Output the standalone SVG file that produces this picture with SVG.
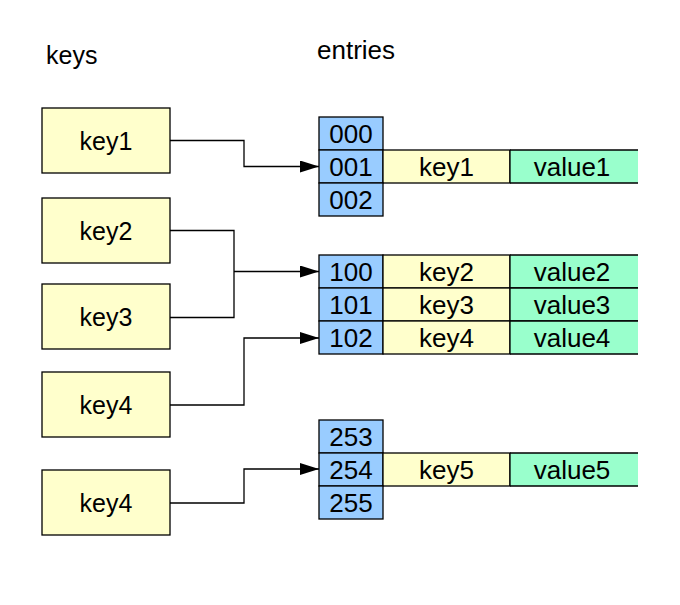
<svg xmlns="http://www.w3.org/2000/svg" width="680" height="605" viewBox="0 0 680 605">
<defs>
<style>
text{font-family:"Liberation Sans",Arial,sans-serif;font-size:26px;fill:#000}
.c{text-anchor:middle}
.kt{font-size:25px}
.key{fill:#FFFFCC;stroke:#000;stroke-width:1.3}
.idx{fill:#99CCFF;stroke:#000;stroke-width:1.3}
.kc{fill:#FFFFCC;stroke:#000;stroke-width:1.3}
.vf{fill:#99FFCC;stroke:none}
.vb{fill:none;stroke:#000;stroke-width:1.3}
.conn{fill:none;stroke:#000;stroke-width:1.3}
</style>
<marker id="arr" markerWidth="19" markerHeight="12" refX="19" refY="6" orient="auto" markerUnits="userSpaceOnUse">
<path d="M0,0 L19,6 L0,12 Z" fill="#000"/>
</marker>
</defs>
<rect width="680" height="605" fill="#fff"/>
<text class="kt" x="46" y="64">keys</text>
<text x="317" y="59">entries</text>

<g id="k1"><rect class="key" x="42" y="108" width="128" height="65"/><text class="c kt" x="106" y="149.5">key1</text></g>
<g id="k2"><rect class="key" x="42" y="198" width="128" height="65"/><text class="c kt" x="106" y="239.5">key2</text></g>
<g id="k3"><rect class="key" x="42" y="284" width="128" height="65"/><text class="c kt" x="106" y="325.5">key3</text></g>
<g id="k4"><rect class="key" x="42" y="372" width="128" height="65"/><text class="c kt" x="106" y="413.5">key4</text></g>
<g id="k4b"><rect class="key" x="42" y="470" width="128" height="65"/><text class="c kt" x="106" y="511.5">key4</text></g>

<g id="e000"><rect class="idx" x="319" y="117" width="64" height="33"/><text class="c" x="351" y="142.5">000</text></g>
<g id="e001">
<rect class="idx" x="319" y="150" width="64" height="33"/><text class="c" x="351" y="175.5">001</text>
<rect class="kc" x="383" y="150" width="127" height="33"/><text class="c" x="446.5" y="175.5">key1</text>
<rect class="vf" x="510" y="150" width="128" height="33"/><path class="vb" d="M510,150 H638 M510,183 H638 M510,150 V183"/><text class="c" x="572" y="175.5">value1</text>
</g>
<g id="e002"><rect class="idx" x="319" y="183" width="64" height="33"/><text class="c" x="351" y="208.5">002</text></g>

<g id="e100">
<rect class="idx" x="319" y="255" width="64" height="33"/><text class="c" x="351" y="280.5">100</text>
<rect class="kc" x="383" y="255" width="127" height="33"/><text class="c" x="446.5" y="280.5">key2</text>
<rect class="vf" x="510" y="255" width="128" height="33"/><path class="vb" d="M510,255 H638 M510,288 H638 M510,255 V288"/><text class="c" x="572" y="280.5">value2</text>
</g>
<g id="e101">
<rect class="idx" x="319" y="288" width="64" height="33"/><text class="c" x="351" y="313.5">101</text>
<rect class="kc" x="383" y="288" width="127" height="33"/><text class="c" x="446.5" y="313.5">key3</text>
<rect class="vf" x="510" y="288" width="128" height="33"/><path class="vb" d="M510,288 H638 M510,321 H638 M510,288 V321"/><text class="c" x="572" y="313.5">value3</text>
</g>
<g id="e102">
<rect class="idx" x="319" y="321" width="64" height="33"/><text class="c" x="351" y="346.5">102</text>
<rect class="kc" x="383" y="321" width="127" height="33"/><text class="c" x="446.5" y="346.5">key4</text>
<rect class="vf" x="510" y="321" width="128" height="33"/><path class="vb" d="M510,321 H638 M510,354 H638 M510,321 V354"/><text class="c" x="572" y="346.5">value4</text>
</g>

<g id="e253"><rect class="idx" x="319" y="420" width="64" height="33"/><text class="c" x="351" y="445.5">253</text></g>
<g id="e254">
<rect class="idx" x="319" y="453" width="64" height="33"/><text class="c" x="351" y="478.5">254</text>
<rect class="kc" x="383" y="453" width="127" height="33"/><text class="c" x="446.5" y="478.5">key5</text>
<rect class="vf" x="510" y="453" width="128" height="33"/><path class="vb" d="M510,453 H638 M510,486 H638 M510,453 V486"/><text class="c" x="572" y="478.5">value5</text>
</g>
<g id="e255"><rect class="idx" x="319" y="486" width="64" height="33"/><text class="c" x="351" y="511.5">255</text></g>

<g id="connectors">
<path class="conn" d="M170,140.5 H244 V166.5 H319" marker-end="url(#arr)"/>
<path class="conn" d="M170,230.5 H234 V317.5 H170"/>
<path class="conn" d="M234,271.5 H319" marker-end="url(#arr)"/>
<path class="conn" d="M170,405 H244 V338 H319" marker-end="url(#arr)"/>
<path class="conn" d="M170,503 H244 V469 H319" marker-end="url(#arr)"/>
</g>
</svg>
